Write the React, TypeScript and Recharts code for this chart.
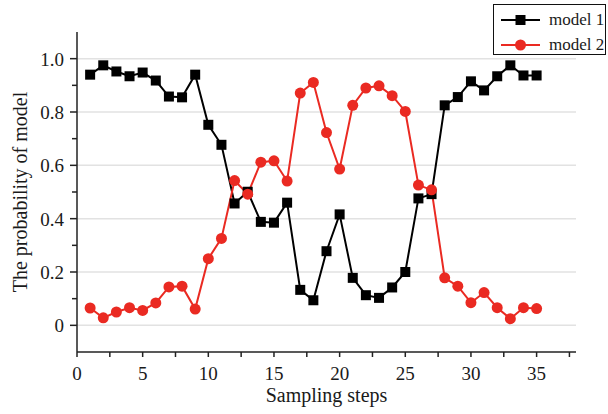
import { LineChart, Line, XAxis, YAxis, CartesianGrid, Label } from "recharts";

const steps = Array.from({ length: 35 }, (_, i) => i + 1);
const model1 = [0.94, 0.975, 0.952, 0.934, 0.948, 0.918, 0.858, 0.855, 0.94, 0.752, 0.677, 0.457, 0.501, 0.388, 0.385, 0.46, 0.133, 0.094, 0.278, 0.416, 0.178, 0.113, 0.103, 0.142, 0.2, 0.476, 0.492, 0.825, 0.856, 0.915, 0.881, 0.934, 0.975, 0.937, 0.937];
const model2 = [0.065, 0.028, 0.05, 0.066, 0.056, 0.084, 0.144, 0.147, 0.061, 0.25, 0.326, 0.543, 0.492, 0.612, 0.617, 0.541, 0.871, 0.911, 0.723, 0.586, 0.825, 0.89, 0.898, 0.861, 0.802, 0.526, 0.508, 0.178, 0.147, 0.085, 0.123, 0.066, 0.025, 0.066, 0.063];

const xMajor = [0, 5, 10, 15, 20, 25, 30, 35];
const xMinor = [2.5, 7.5, 12.5, 17.5, 22.5, 27.5, 32.5, 37.5];
const yMajor = [0, 0.2, 0.4, 0.6, 0.8, 1.0];
const yMinor = [0.1, 0.3, 0.5, 0.7, 0.9];

const data = steps.map((s, i) => ({ step: s, m1: model1[i], m2: model2[i] }));

const RED = "#ea2a22";
const FONT = "serif";
const TXT = "#1a1a1a";

const isMajor = (arr: number[], v: number) => arr.some((m) => Math.abs(m - v) < 1e-6);

function XTick(props: any) {
  const { x, y, payload } = props;
  const major = isMajor(xMajor, payload.value);
  return (
    <g>
      <line x1={x} y1={y} x2={x} y2={y + 5} stroke="#222" strokeWidth={1.5} />
      {major && (
        <text x={x} y={y + 28} textAnchor="middle" fontFamily={FONT} fontSize={19} fill={TXT}>
          {payload.value}
        </text>
      )}
    </g>
  );
}

function YTick(props: any) {
  const { x, y, payload } = props;
  const major = isMajor(yMajor, payload.value);
  const len = major ? 7 : 5;
  return (
    <g>
      <line x1={x - len} y1={y} x2={x} y2={y} stroke="#222" strokeWidth={1.5} />
      {major && (
        <text x={x - 13} y={y + 7} textAnchor="end" fontFamily={FONT} fontSize={19} fill={TXT}>
          {payload.value === 0 ? "0" : payload.value.toFixed(1)}
        </text>
      )}
    </g>
  );
}

function Square(props: any) {
  const { cx, cy } = props;
  if (cx == null || cy == null) return null;
  return <rect x={cx - 5} y={cy - 5} width={10} height={10} fill="#000" />;
}

function Dot(props: any) {
  const { cx, cy } = props;
  if (cx == null || cy == null) return null;
  return <circle cx={cx} cy={cy} r={5.5} fill={RED} />;
}

function LegendBox() {
  const row = (label: string, color: string, square: boolean) => (
    <div style={{ display: "flex", alignItems: "center", height: 25 }}>
      <svg width={42} height={14} style={{ marginRight: 7 }}>
        <line x1={1} y1={7} x2={40} y2={7} stroke={color} strokeWidth={2} />
        {square ? <rect x={15.5} y={2} width={10} height={10} fill={color} /> : <circle cx={20.5} cy={7} r={5.5} fill={color} />}
      </svg>
      <span>{label}</span>
    </div>
  );
  return (
    <div
      style={{
        position: "absolute",
        left: 493,
        top: 4,
        width: 113,
        height: 51,
        boxSizing: "border-box",
        border: "1.5px solid #111",
        background: "#fff",
        fontFamily: FONT,
        fontSize: 17,
        color: TXT,
        padding: "2px 0 0 6px",
      }}
    >
      {row("model 1", "#000", true)}
      {row("model 2", RED, false)}
    </div>
  );
}

export default function App() {
  return (
    <div style={{ position: "absolute", left: 0, top: 0, width: 608, height: 414, background: "#fff", fontFamily: FONT }}>
      <LineChart width={608} height={414} data={data} margin={{ top: 32, right: 32, left: 0, bottom: 0 }} style={{ fontFamily: FONT }}>
        <CartesianGrid vertical={false} horizontalValues={yMajor} stroke="#e2e2e2" strokeWidth={1.5} />
        <XAxis
          dataKey="step"
          type="number"
          domain={[0, 38]}
          ticks={[...xMajor, ...xMinor].sort((a, b) => a - b)}
          interval={0}
          height={62}
          tickSize={0}
          tickMargin={0}
          tickLine={false}
          tick={<XTick />}
          axisLine={{ stroke: "#222", strokeWidth: 1.5 }}
          allowDataOverflow
        >
          <Label value="Sampling steps" position="insideBottom" offset={12} fontSize={20} fill={TXT} />
        </XAxis>
        <YAxis
          type="number"
          domain={[-0.1, 1.1]}
          ticks={[...yMajor, ...yMinor].sort((a, b) => a - b)}
          interval={0}
          width={77}
          tickSize={0}
          tickMargin={0}
          tickLine={false}
          tick={<YTick />}
          axisLine={{ stroke: "#222", strokeWidth: 1.5 }}
          allowDataOverflow
        >
          <Label
            content={({ viewBox }: any) => {
              const cx = 20;
              const cy = viewBox.y + viewBox.height / 2;
              return (
                <text x={cx} y={cy} transform={`rotate(-90 ${cx} ${cy})`} textAnchor="middle" dominantBaseline="central" fontFamily={FONT} fontSize={20} fill={TXT}>
                  The probability of model
                </text>
              );
            }}
          />
        </YAxis>
        <Line dataKey="m1" stroke="#000" strokeWidth={2} dot={<Square />} activeDot={false} isAnimationActive={false} />
        <Line dataKey="m2" stroke={RED} strokeWidth={2} dot={<Dot />} activeDot={false} isAnimationActive={false} />
      </LineChart>
      <LegendBox />
    </div>
  );
}
